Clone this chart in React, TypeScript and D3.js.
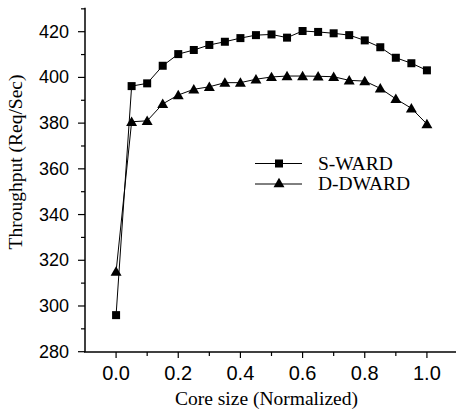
import React from "react";
import * as d3 from "d3";

const xValues = [0, 0.05, 0.1, 0.15, 0.2, 0.25, 0.3, 0.35, 0.4, 0.45, 0.5, 0.55, 0.6, 0.65, 0.7, 0.75, 0.8, 0.85, 0.9, 0.95, 1.0];
const swardValues = [296, 396.2, 397.4, 405.1, 410.2, 412.0, 414.2, 415.6, 417.2, 418.5, 418.8, 417.4, 420.3, 419.9, 419.3, 418.5, 416.2, 413.2, 408.6, 406.2, 403.1];
const ddwardValues = [315, 380.6, 381.0, 388.4, 392.3, 394.8, 395.9, 397.7, 397.7, 399.2, 400.2, 400.6, 400.6, 400.5, 400.3, 398.7, 398.4, 395.2, 390.6, 386.5, 379.6];
const xMajorTicks = [0, 0.2, 0.4, 0.6, 0.8, 1.0];
const xMinorTicks = [0.1, 0.3, 0.5, 0.7, 0.9];
const yMajorTicks = [280, 300, 320, 340, 360, 380, 400, 420];
const yMinorTicks = [290, 310, 330, 350, 370, 390, 410, 430];
const seriesNames = ["S-WARD", "D-DWARD"];

export default function App() {
  const W = 456, H = 411;
  const x = d3.scaleLinear().domain([-0.1, 1.1]).range([85, 458]);
  const y = d3.scaleLinear().domain([280, 420]).range([351.7, 31.7]);
  const line = d3.line<number>().x((_, i) => x(xValues[i])).y((d) => y(d));
  const tri = d3.symbol().type(d3.symbolTriangle).size(52)();
  const sq = 8;

  const square = (cx: number, cy: number, k: string) => (
    <rect key={k} x={cx - sq / 2} y={cy - sq / 2} width={sq} height={sq} fill="#000" />
  );
  const triangle = (cx: number, cy: number, k: string) => (
    <path key={k} d={tri as string} transform={`translate(${cx},${cy + 1})`} fill="#000" />
  );

  const yTop = y(430.5);
  return (
    <svg width={W} height={H} style={{ position: "absolute", left: 0, top: 0, background: "#fff" }}>
      <rect width={W} height={H} fill="#fff" />
      {/* axes */}
      <line x1={85} x2={85} y1={yTop} y2={352} stroke="#000" strokeWidth={1.5} />
      <line x1={84} x2={458} y1={352} y2={352} stroke="#000" strokeWidth={1.5} />
      {yMajorTicks.map((t) => (
        <g key={"ym" + t}>
          <line x1={78} x2={85} y1={y(t)} y2={y(t)} stroke="#000" strokeWidth={1.2} />
          <text x={69} y={y(t) + 6} textAnchor="end" fontFamily="Liberation Sans, Arial, sans-serif" fontSize={18}>
            {t}
          </text>
        </g>
      ))}
      {yMinorTicks.map((t) => (
        <line key={"yn" + t} x1={81} x2={85} y1={y(t)} y2={y(t)} stroke="#000" strokeWidth={1.2} />
      ))}
      {xMajorTicks.map((t) => (
        <g key={"xm" + t}>
          <line x1={x(t)} x2={x(t)} y1={352} y2={358} stroke="#000" strokeWidth={1.2} />
          <text x={x(t)} y={380} textAnchor="middle" fontFamily="Liberation Sans, Arial, sans-serif" fontSize={20}>
            {t.toFixed(1)}
          </text>
        </g>
      ))}
      {xMinorTicks.map((t) => (
        <line key={"xn" + t} x1={x(t)} x2={x(t)} y1={352} y2={356} stroke="#000" strokeWidth={1.2} />
      ))}
      {/* titles */}
      <text x={266.5} y={405} textAnchor="middle" fontFamily="Liberation Serif, Times New Roman, serif" fontSize={19.5}>
        Core size (Normalized)
      </text>
      <text
        transform={`translate(22,162) rotate(-90)`}
        textAnchor="middle"
        fontFamily="Liberation Serif, Times New Roman, serif"
        fontSize={19.5}
      >
        Throughput (Req/Sec)
      </text>
      {/* series */}
      <path d={line(swardValues) as string} fill="none" stroke="#000" strokeWidth={1} />
      <path d={line(ddwardValues) as string} fill="none" stroke="#000" strokeWidth={1} />
      {swardValues.map((v, i) => square(x(xValues[i]), y(v), "s" + i))}
      {ddwardValues.map((v, i) => triangle(x(xValues[i]), y(v), "t" + i))}
      {/* legend */}
      <line x1={255} x2={302} y1={163.5} y2={163.5} stroke="#000" strokeWidth={1} />
      {square(279, 163.5, "ls")}
      <text x={318} y={170} fontFamily="Liberation Serif, Times New Roman, serif" fontSize={19.5}>
        {seriesNames[0]}
      </text>
      <line x1={255} x2={302} y1={184} y2={184} stroke="#000" strokeWidth={1} />
      {triangle(279, 183, "lt")}
      <text x={318} y={190} fontFamily="Liberation Serif, Times New Roman, serif" fontSize={19.5}>
        {seriesNames[1]}
      </text>
    </svg>
  );
}
